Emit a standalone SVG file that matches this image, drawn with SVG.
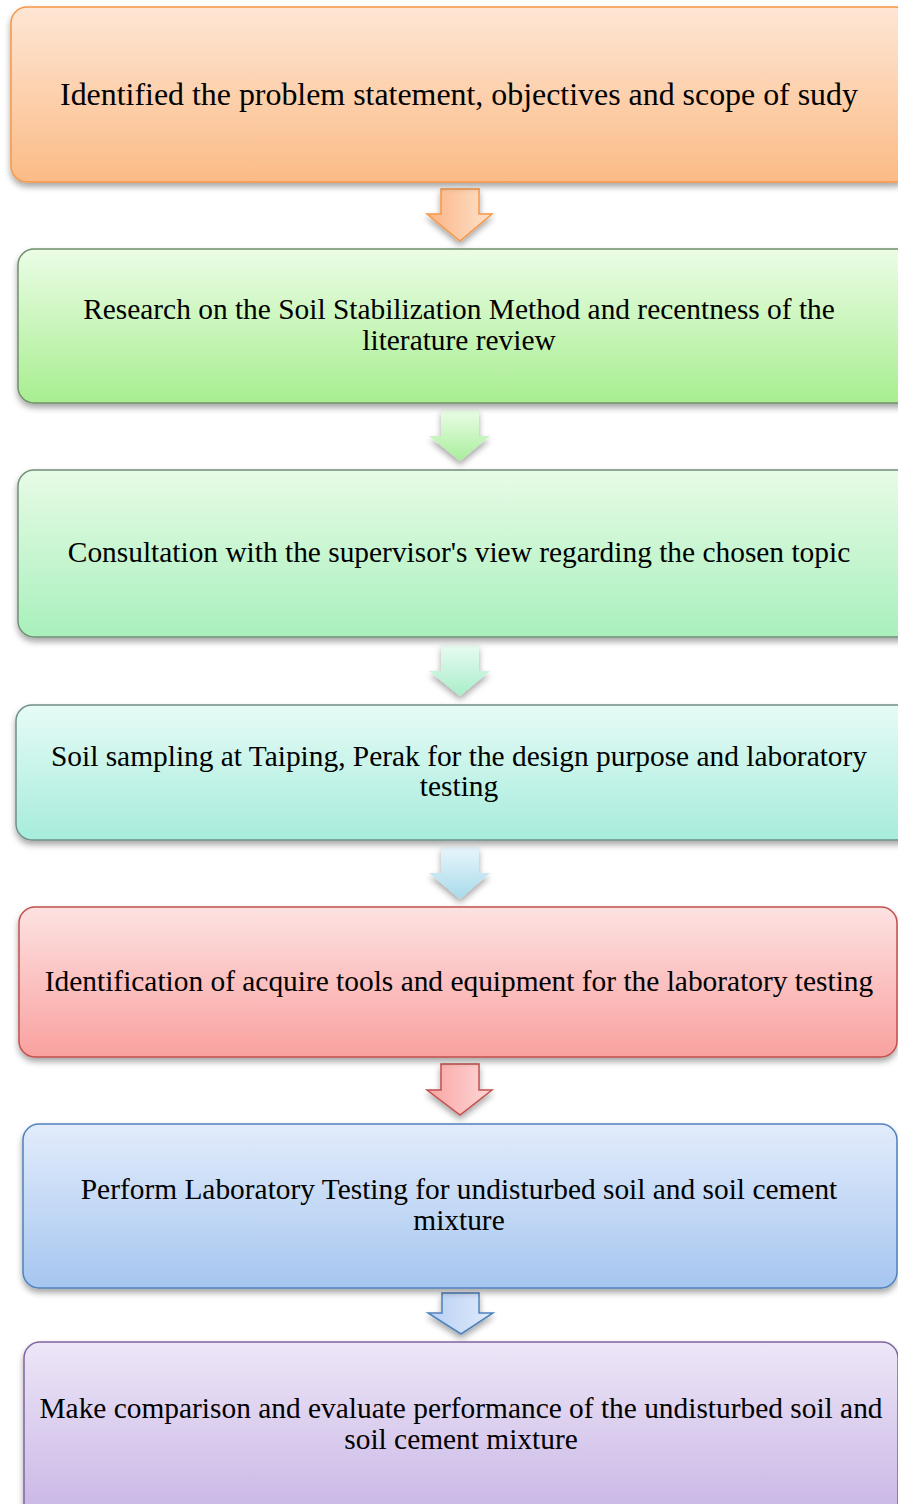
<svg xmlns="http://www.w3.org/2000/svg" width="898" height="1504" viewBox="0 0 898 1504">
<defs>
<style>
.t{font-family:"Liberation Serif","Times New Roman",serif;fill:#000;text-anchor:middle}
.t1{font-size:31.9px}
.t2{font-size:29.4px}
.box{stroke-width:1.5}
</style>
<filter id="sh" x="-5%" y="-10%" width="110%" height="130%">
<feDropShadow dx="0" dy="4" stdDeviation="3" flood-color="#000" flood-opacity="0.35"/>
</filter>
<linearGradient id="g1" x1="0" y1="0" x2="0" y2="1"><stop offset="0" stop-color="#fee6d4"/><stop offset="1" stop-color="#fbbb86"/></linearGradient>
<linearGradient id="g2" x1="0" y1="0" x2="0" y2="1"><stop offset="0" stop-color="#ebfde6"/><stop offset="1" stop-color="#a8ee90"/></linearGradient>
<linearGradient id="g3" x1="0" y1="0" x2="0" y2="1"><stop offset="0" stop-color="#e8fbe6"/><stop offset="1" stop-color="#a8f0bc"/></linearGradient>
<linearGradient id="g4" x1="0" y1="0" x2="0" y2="1"><stop offset="0" stop-color="#e6fbf6"/><stop offset="1" stop-color="#a6ecdc"/></linearGradient>
<linearGradient id="g5" x1="0" y1="0" x2="0" y2="1"><stop offset="0" stop-color="#fde2e2"/><stop offset="1" stop-color="#f9a19f"/></linearGradient>
<linearGradient id="g6" x1="0" y1="0" x2="0" y2="1"><stop offset="0" stop-color="#e2ecfb"/><stop offset="1" stop-color="#a6c6f0"/></linearGradient>
<linearGradient id="g7" x1="0" y1="0" x2="0" y2="1"><stop offset="0" stop-color="#ede6f7"/><stop offset="1" stop-color="#c6b2e4"/></linearGradient>
<linearGradient id="a1" x1="0" y1="0" x2="1" y2="0"><stop offset="0" stop-color="#fbb484"/><stop offset="1" stop-color="#fde2cc"/></linearGradient>
<linearGradient id="a2" x1="0" y1="0" x2="0" y2="1"><stop offset="0" stop-color="#eafde6"/><stop offset="1" stop-color="#a8ee9c"/></linearGradient>
<linearGradient id="a3" x1="0" y1="0" x2="0" y2="1"><stop offset="0" stop-color="#e8fbf2"/><stop offset="1" stop-color="#a8eec8"/></linearGradient>
<linearGradient id="a4" x1="0" y1="0" x2="0" y2="1"><stop offset="0" stop-color="#e8f6fc"/><stop offset="1" stop-color="#a8daea"/></linearGradient>
<linearGradient id="a5" x1="0" y1="0" x2="1" y2="0"><stop offset="0" stop-color="#f9a4a2"/><stop offset="1" stop-color="#fdd8d8"/></linearGradient>
<linearGradient id="a6" x1="0" y1="0" x2="1" y2="0"><stop offset="0" stop-color="#b8d0f4"/><stop offset="1" stop-color="#e0eafb"/></linearGradient>
</defs>
<rect width="898" height="1504" fill="#fff"/>

<g id="connectors">
<path filter="url(#sh)" d="M441,189 H479 V214 H492 L460,241 L427,214 H441 Z" fill="url(#a1)" stroke="#f79646" stroke-width="1.5"/>
<path filter="url(#sh)" d="M441,410 H479 V436 H490 L460,461 L429,436 H441 Z" fill="url(#a2)"/>
<path filter="url(#sh)" d="M441,645 H479 V671 H490 L460,696 L429,671 H441 Z" fill="url(#a3)"/>
<path filter="url(#sh)" d="M441,847 H479 V873 H490 L460,899 L429,873 H441 Z" fill="url(#a4)"/>
<path filter="url(#sh)" d="M441,1064 H479 V1090 H492 L460,1115 L427,1090 H441 Z" fill="url(#a5)" stroke="#c0504d" stroke-width="1.5"/>
<path filter="url(#sh)" d="M442,1293 H479 V1313 H493 L461,1334 L428,1313 H442 Z" fill="url(#a6)" stroke="#4f81bd" stroke-width="1.5"/>
</g>

<g id="node1">
<rect class="box" filter="url(#sh)" x="11" y="7" width="900" height="175" rx="16" fill="url(#g1)" stroke="#f79646"/>
<text class="t t1" x="459" y="105">Identified the problem statement, objectives and scope of sudy</text>
</g>

<g id="node2">
<rect class="box" filter="url(#sh)" x="18" y="249" width="900" height="154" rx="16" fill="url(#g2)" stroke="#6f8f6a"/>
<text class="t t2" x="459" y="319">Research on the Soil Stabilization Method and recentness of the</text>
<text class="t t2" x="459" y="350">literature review</text>
</g>

<g id="node3">
<rect class="box" filter="url(#sh)" x="18" y="470" width="900" height="167" rx="16" fill="url(#g3)" stroke="#6f8f75"/>
<text class="t t2" x="459" y="562">Consultation with the supervisor's view regarding the chosen topic</text>
</g>

<g id="node4">
<rect class="box" filter="url(#sh)" x="16" y="705" width="900" height="135" rx="16" fill="url(#g4)" stroke="#6f8f88"/>
<text class="t t2" x="459" y="766">Soil sampling at Taiping, Perak for the design purpose and laboratory</text>
<text class="t t2" x="459" y="796">testing</text>
</g>

<g id="node5">
<rect class="box" filter="url(#sh)" x="19" y="907" width="878" height="150" rx="16" fill="url(#g5)" stroke="#c0504d"/>
<text class="t t2" x="459" y="991">Identification of acquire tools and equipment for the laboratory testing</text>
</g>

<g id="node6">
<rect class="box" filter="url(#sh)" x="23" y="1124" width="874" height="164" rx="16" fill="url(#g6)" stroke="#4f81bd"/>
<text class="t t2" x="459" y="1199">Perform Laboratory Testing for undisturbed soil and soil cement</text>
<text class="t t2" x="459" y="1230">mixture</text>
</g>

<g id="node7">
<rect class="box" filter="url(#sh)" x="24" y="1342" width="874" height="190" rx="16" fill="url(#g7)" stroke="#8064a2"/>
<text class="t t2" x="461" y="1418">Make comparison and evaluate performance of the undisturbed soil and</text>
<text class="t t2" x="461" y="1449">soil cement mixture</text>
</g>
</svg>
